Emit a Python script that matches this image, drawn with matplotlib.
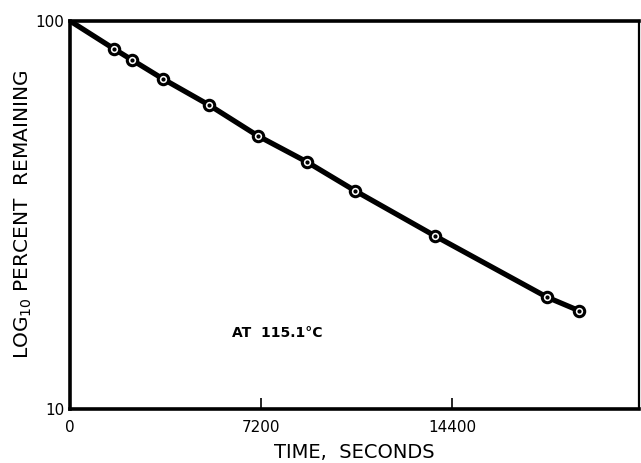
import numpy as np
import matplotlib
matplotlib.use("Agg")
import matplotlib.pyplot as plt
from matplotlib.ticker import FixedLocator, NullLocator

# --- data ---
time_s = [0, 1660, 2340, 3500, 5240, 7090, 8930, 10740, 13760, 17980, 19190]
percent_left = [100, 84.7, 79.3, 70.9, 60.7, 50.5, 43.3, 36.5, 27.9, 19.4, 17.9]

x_ticks = [0, 7200, 14400]
x_tick_labels = ["0", "7200", "14400"]
y_ticks = [10, 100]
y_tick_labels = ["10", "100"]

fig = plt.figure(figsize=(6.41, 4.63), dpi=100)
ax = fig.add_axes([0.109, 0.117, 0.888, 0.838])

# thick curve
ax.plot(time_s, percent_left, color="black", lw=3.8, solid_capstyle="butt", zorder=2)
# open circles with centre dot (skip the origin point)
ax.plot(time_s[1:], percent_left[1:], ls="none", marker="o", ms=7.5,
        mfc="white", mec="black", mew=2.2, zorder=3)
ax.plot(time_s[1:], percent_left[1:], ls="none", marker="o", ms=2.0,
        mfc="black", mec="black", zorder=4)

ax.set_yscale("log")
ax.set_xlim(0, 21450)
ax.set_ylim(10, 100)

ax.xaxis.set_major_locator(FixedLocator(x_ticks))
ax.set_xticklabels(x_tick_labels)
ax.yaxis.set_major_locator(FixedLocator(y_ticks))
ax.yaxis.set_minor_locator(NullLocator())
ax.set_yticklabels(y_tick_labels)

ax.tick_params(axis="x", direction="in", length=8, width=1.2, pad=8, labelsize=11)
ax.tick_params(axis="y", length=0, pad=4, labelsize=11)

for side in ["top", "bottom", "left"]:
    ax.spines[side].set_linewidth(2.6)
ax.spines["right"].set_linewidth(1.6)

ax.set_xlabel("TIME,  SECONDS", fontsize=14, labelpad=6)
ax.set_ylabel(r"LOG$_{10}$ PERCENT  REMAINING", fontsize=14.5, labelpad=1)

ax.text(0.285, 0.196, "AT  115.1°C", transform=ax.transAxes, fontsize=10,
        fontweight="bold", ha="left", va="center")

fig.savefig("out.png", dpi=100)
